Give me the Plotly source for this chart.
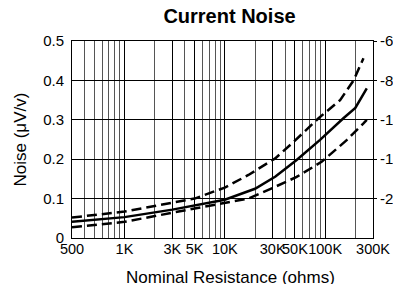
import plotly.graph_objects as go

# ---- data ----
solid_r = [300, 1000, 3000, 5000, 10000, 20000, 32000, 52000, 89000, 152000, 200000, 260000]
solid_v = [0.041, 0.053, 0.072, 0.083, 0.097, 0.125, 0.156, 0.198, 0.249, 0.304, 0.33, 0.38]

upper_r = [300, 1000, 5000, 10000, 17200, 31800, 46700, 86000, 141000, 192000, 241000]
upper_v = [0.052, 0.067, 0.100, 0.128, 0.160, 0.202, 0.240, 0.304, 0.350, 0.400, 0.456]

lower_r = [300, 1000, 5000, 10000, 17200, 31800, 52000, 93000, 165000, 241000, 260000]
lower_v = [0.027, 0.041, 0.075, 0.088, 0.100, 0.130, 0.155, 0.194, 0.249, 0.291, 0.30]

x_tickvals = [300, 1000, 3000, 5000, 10000, 30000, 50000, 100000, 300000]
x_ticktext = ["500", "1K", "3K", "5K", "10K", "30K", "50K", "100K", "300K"]
x_minor = [400, 500, 600, 700, 800, 900, 2000, 4000, 6000, 7000, 8000, 9000,
           20000, 40000, 60000, 70000, 80000, 90000, 200000]

y_tickvals = [0, 0.1, 0.2, 0.3, 0.4, 0.5]
y_ticktext = ["0", "0.1", "0.2", "0.3", "0.4", "0.5"]
y2_tickvals = [0.1, 0.2, 0.3, 0.4, 0.5]
y2_ticktext = ["-20", "-14", "-10", "-8", "-6"]

FONT = "Liberation Sans, Arial, sans-serif"

fig = go.Figure()
fig.add_trace(go.Scatter(x=upper_r, y=upper_v, mode="lines",
                         line=dict(color="black", width=2.5, dash="10px,5px"),
                         showlegend=False, hoverinfo="skip"))
fig.add_trace(go.Scatter(x=lower_r, y=lower_v, mode="lines",
                         line=dict(color="black", width=2.5, dash="10px,5px"),
                         showlegend=False, hoverinfo="skip"))
fig.add_trace(go.Scatter(x=solid_r, y=solid_v, mode="lines",
                         line=dict(color="black", width=2.5),
                         showlegend=False, hoverinfo="skip"))
# invisible trace to activate the right axis
fig.add_trace(go.Scatter(x=[1000], y=[0.1], yaxis="y2", mode="markers",
                         marker=dict(opacity=0), showlegend=False, hoverinfo="skip"))

fig.update_layout(
    width=393, height=284,
    margin=dict(l=72, r=20, t=41, b=46),
    paper_bgcolor="white", plot_bgcolor="white",
    font=dict(family=FONT, color="black", size=15),
    title=dict(text="<b>Current Noise</b>", font=dict(family=FONT, size=20, color="black"),
               x=229.5 / 393, xref="container", xanchor="center",
               y=1 - 9 / 284, yref="container", yanchor="top", automargin=False),
    xaxis=dict(type="log", range=[2.4771, 5.4771],
               tickvals=x_tickvals, ticktext=x_ticktext, tickangle=0, automargin=False,
               showgrid=True, gridcolor="black", gridwidth=1,
               minor=dict(tickvals=x_minor, showgrid=True, gridcolor="#555555", gridwidth=1, ticks=""),
               showline=True, linecolor="black", linewidth=1, mirror=True,
               ticks="", ticklabelstandoff=-2,
               tickfont=dict(family=FONT, size=14.5, color="black"), zeroline=False),
    yaxis=dict(range=[0, 0.5], tickvals=y_tickvals, ticktext=y_ticktext, automargin=False,
               showgrid=True, gridcolor="black", gridwidth=1,
               showline=True, linecolor="black", linewidth=1, mirror=True,
               ticks="", ticklabelstandoff=4, zeroline=False,
               tickfont=dict(family=FONT, size=15, color="black")),
    yaxis2=dict(range=[0, 0.5], overlaying="y", side="right", automargin=False,
                tickvals=y2_tickvals, ticktext=y2_ticktext,
                showgrid=False, zeroline=False, showline=False,
                ticks="outside", ticklen=3, tickcolor="black",
                tickfont=dict(family=FONT, size=15, color="black")),
    annotations=[
        dict(text="Nominal Resistance (ohms)", xref="paper", yref="paper",
             x=(230 - 72) / 301, y=(238 - 277) / 197, xanchor="center", yanchor="middle",
             showarrow=False, font=dict(family=FONT, size=17, color="black")),
        dict(text="Noise (μV/v)", xref="paper", yref="paper",
             x=(20 - 72) / 301, y=0.5, xanchor="center", yanchor="middle", textangle=-90,
             showarrow=False, font=dict(family=FONT, size=17, color="black")),
    ],
)

fig.write_html("out.html", config={"displayModeBar": False},
               post_script="document.body.style.margin='0';document.body.style.padding='0';")
